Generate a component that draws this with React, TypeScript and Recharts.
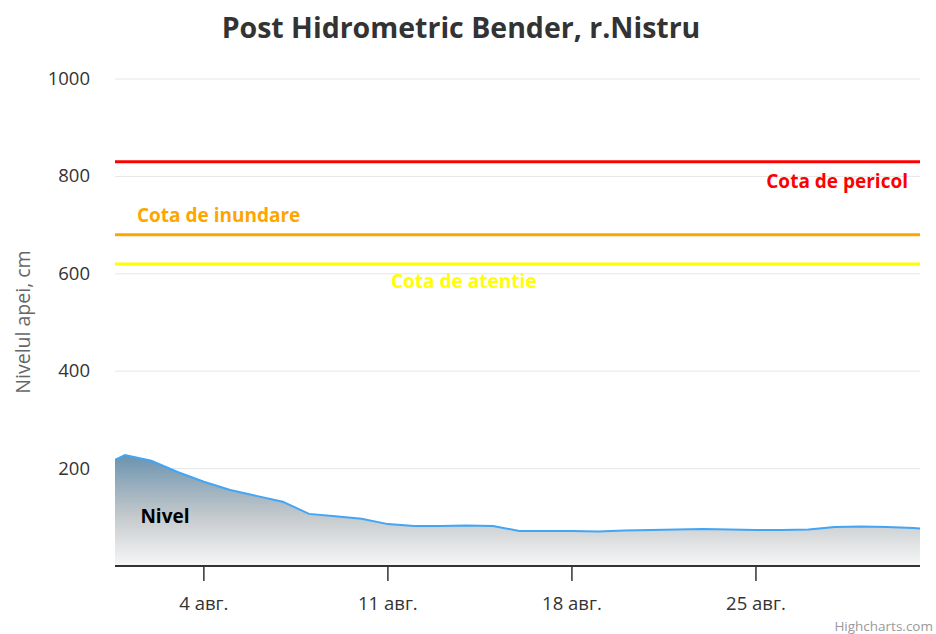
import React from "react";
import {
  ComposedChart,
  Area,
  XAxis,
  YAxis,
  CartesianGrid,
  ReferenceLine,
  ReferenceDot,
} from "recharts";

// Day of August (fractional at the axis edges)
const days = [
  0.62, 1, 2, 3, 4, 5, 6, 7, 8, 9, 10, 11, 12, 13, 14, 15, 16, 17, 18, 19, 20,
  21, 22, 23, 24, 25, 26, 27, 28, 29, 30, 31, 31.24,
];
// Water level, cm
const levels = [
  218, 228, 216, 193, 173, 156, 144, 132, 107, 102, 97, 86, 82, 82, 83, 82, 72,
  72, 72, 71, 73, 74, 75, 76, 75, 74, 74, 75, 80, 81, 80, 78, 77,
];

const xTicks = [4, 11, 18, 25];
const xTickLabels = ["4 авг.", "11 авг.", "18 авг.", "25 авг."];
const yTicks = [0, 200, 400, 600, 800, 1000];

const thresholdNames = ["Cota de pericol", "Cota de inundare", "Cota de atentie"];
const thresholdValues = [830, 680, 620];
const thresholdColors = ["#ff0000", "#ffa500", "#ffff00"];

const data = days.map((d, i) => ({ day: d, nivel: levels[i] }));

const FONT = "'Open Sans', 'Noto Sans', sans-serif";

const labelPlacement = [
  { dx: (w: number) => w - 12, dy: 26, anchor: "end" },
  { dx: () => 22, dy: -13, anchor: "start" },
  { dx: () => 276, dy: 24, anchor: "start" },
];

function makeLabel(i: number) {
  return (props: any) => {
    const vb = props.viewBox || {};
    const p = labelPlacement[i];
    return (
      <text
        x={vb.x + p.dx(vb.width)}
        y={vb.y + p.dy}
        textAnchor={p.anchor as any}
        fill={thresholdColors[i]}
        fontFamily={FONT}
        fontWeight={700}
        fontSize={19}
      >
        {thresholdNames[i]}
      </text>
    );
  };
}

const YTick = (props: any) => {
  const { x, y, payload } = props;
  if (payload.value === 0) return null;
  return (
    <text
      x={x}
      y={y}
      dy={6}
      textAnchor="end"
      fill="#333333"
      fontFamily={FONT}
      fontSize={18.5}
    >
      {payload.value}
    </text>
  );
};

const XTick = (props: any) => {
  const { x, y, payload } = props;
  const idx = xTicks.indexOf(payload.value);
  return (
    <text
      x={x}
      y={y}
      dy={17}
      textAnchor="middle"
      fill="#333333"
      fontFamily={FONT}
      fontSize={18.5}
    >
      {idx >= 0 ? xTickLabels[idx] : ""}
    </text>
  );
};

export default function App() {
  return (
    <div
      style={{
        position: "absolute",
        left: 0,
        top: 0,
        width: 936,
        height: 634,
        background: "#ffffff",
        fontFamily: FONT,
      }}
    >
      <div
        style={{
          position: "absolute",
          left: 0,
          top: 7,
          width: 922,
          textAlign: "center",
          fontSize: 28.5,
          fontWeight: 700,
          color: "#333333",
          lineHeight: "40px",
        }}
      >
        Post Hidrometric Bender, r.Nistru
      </div>
      <div
        style={{
          position: "absolute",
          left: 22,
          top: 322,
          transform: "translate(-50%, -50%) rotate(-90deg)",
          whiteSpace: "nowrap",
          fontSize: 19.5,
          color: "#666666",
        }}
      >
        Nivelul apei, cm
      </div>
      <div
        style={{
          position: "absolute",
          right: 3,
          top: 619,
          fontSize: 13.5,
          lineHeight: "15px",
          color: "#999999",
        }}
      >
        Highcharts.com
      </div>
      <ComposedChart
        width={936}
        height={634}
        data={data}
        margin={{ top: 79, right: 16, bottom: 0, left: 0 }}
      >
        <defs>
          <linearGradient id="areaFill" x1="0" y1="0" x2="0" y2="1">
            <stop offset="0%" stopColor="#6b93af" />
            <stop offset="55%" stopColor="#c4c9cc" />
            <stop offset="100%" stopColor="#f7f7f7" />
          </linearGradient>
        </defs>
        <CartesianGrid vertical={false} stroke="#e6e6e6" />
        <XAxis
          dataKey="day"
          type="number"
          domain={[0.62, 31.24]}
          ticks={xTicks}
          allowDataOverflow
          height={68}
          tickSize={15}
          tickMargin={12}
          tickLine={{ stroke: "#333333", strokeWidth: 1.5 }}
          axisLine={{ stroke: "#333333", strokeWidth: 2 }}
          tick={<XTick />}
        />
        <YAxis
          type="number"
          domain={[0, 1000]}
          ticks={yTicks}
          width={115}
          axisLine={false}
          tickLine={false}
          tickSize={0}
          tickMargin={25}
          tick={<YTick />}
        />
        <Area
          type="linear"
          dataKey="nivel"
          stroke="#42a5f5"
          strokeWidth={2}
          fill="url(#areaFill)"
          fillOpacity={1}
          dot={false}
          activeDot={false}
          isAnimationActive={false}
        />
        {thresholdValues.map((v, i) => (
          <ReferenceLine
            key={thresholdNames[i]}
            y={v}
            stroke={thresholdColors[i]}
            strokeWidth={3}
            label={makeLabel(i)}
          />
        ))}
        <ReferenceDot
          x={2.52}
          y={103}
          r={0}
          fill="none"
          stroke="none"
          label={{
            value: "Nivel",
            position: "center",
            fill: "#000000",
            fontFamily: FONT,
            fontWeight: 700,
            fontSize: 19,
          }}
        />
      </ComposedChart>
    </div>
  );
}
